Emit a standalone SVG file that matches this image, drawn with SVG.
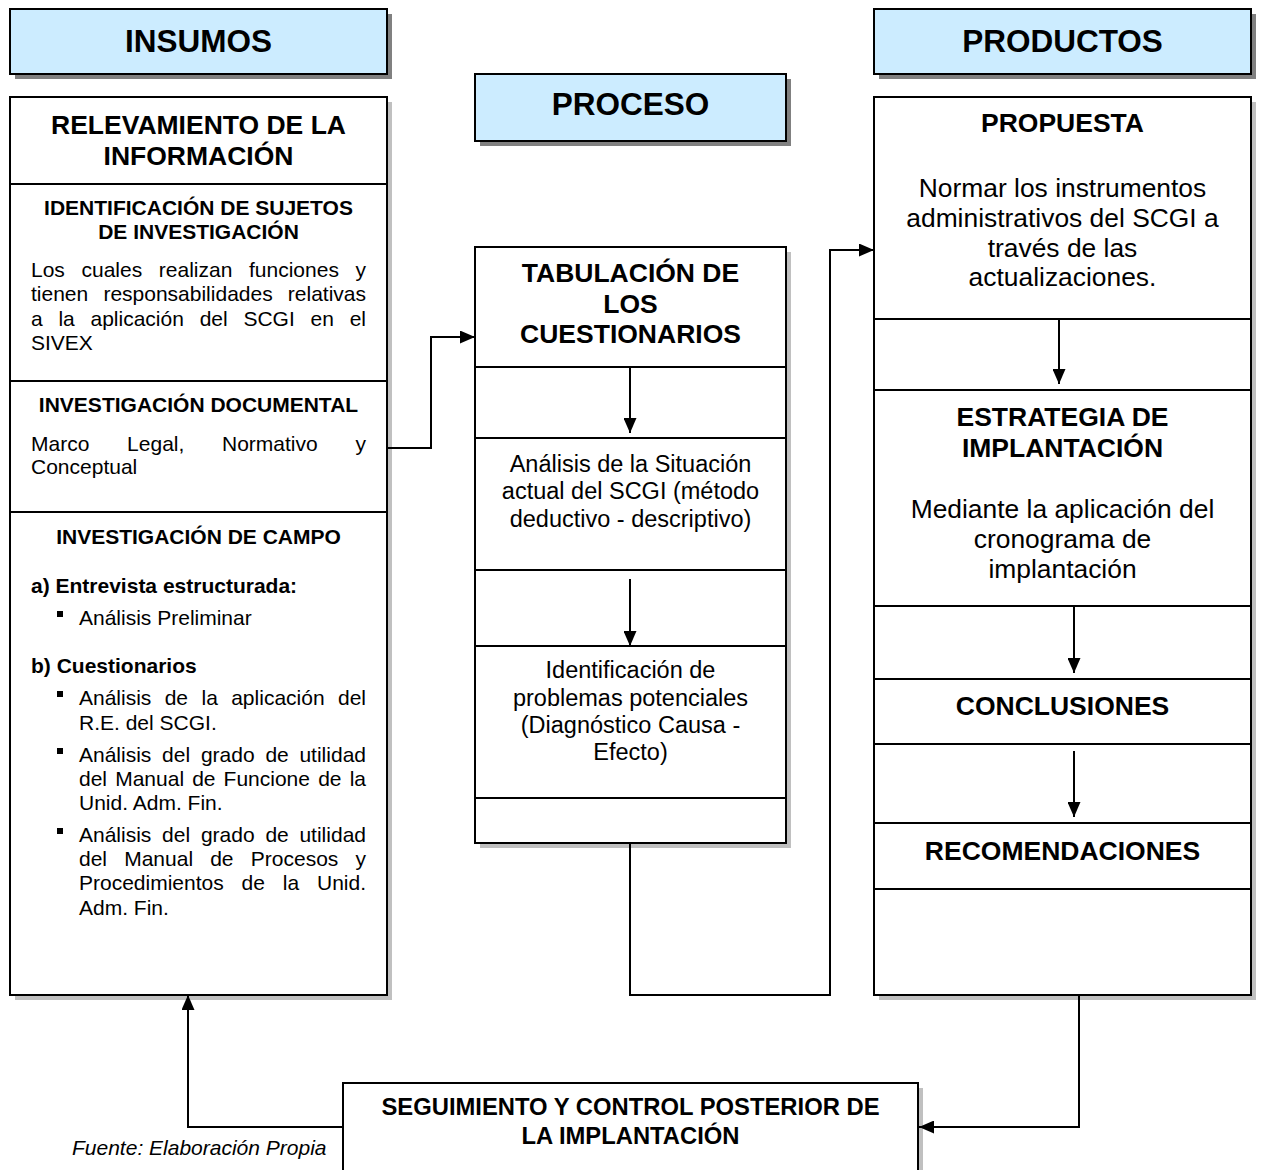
<svg xmlns="http://www.w3.org/2000/svg" width="1261" height="1170" viewBox="0 0 1261 1170">
<style>
text{font-family:"Liberation Sans",Arial,sans-serif;fill:#000}
.hd{font-size:31.5px;font-weight:bold;text-anchor:middle}
.t1{font-size:26.5px;font-weight:bold;text-anchor:middle}
.t2{font-size:21px;font-weight:bold;text-anchor:middle}
.t3{font-size:23.8px;font-weight:bold;text-anchor:middle}
.b2{font-size:21px;font-weight:bold}
.bd{font-size:21px}
.e{text-anchor:end}
.mb{font-size:23.5px;text-anchor:middle}
.rb{font-size:26.4px;text-anchor:middle}
.src{font-size:21px;font-style:italic}
.hbox{fill:#CCECFF;stroke:#000;stroke-width:2}
.box{fill:#fff;stroke:#000;stroke-width:2}
.hsh{fill:#808080}
.sh{fill:#c0c0c0}
.dv{stroke:#000;stroke-width:2;fill:none}
.cn{stroke:#000;stroke-width:2;fill:none}
.ca{stroke:#000;stroke-width:2;fill:none;marker-end:url(#ah)}
</style>
<defs>
<marker id="ah" markerUnits="userSpaceOnUse" viewBox="0 0 15 13" markerWidth="15" markerHeight="13" refX="15" refY="6.5" orient="auto">
<path d="M0,0 L15,6.5 L0,13 Z" fill="#000"/>
</marker>
</defs>
<rect width="1261" height="1170" fill="#fff"/>

<g id="insumos-header">
<rect class="hsh" x="15" y="14" width="377" height="65"/>
<rect class="hbox" x="10" y="9" width="377" height="65"/>
<text class="hd" x="198.5" y="52">INSUMOS</text>
</g>

<g id="proceso-header">
<rect class="hsh" x="480" y="79" width="311" height="67"/>
<rect class="hbox" x="475" y="74" width="311" height="67"/>
<text class="hd" x="630.5" y="115">PROCESO</text>
</g>

<g id="productos-header">
<rect class="hsh" x="879" y="14" width="377" height="65"/>
<rect class="hbox" x="874" y="9" width="377" height="65"/>
<text class="hd" x="1062.5" y="52">PRODUCTOS</text>
</g>

<g id="insumos">
<rect class="sh" x="15" y="102" width="377" height="898"/>
<rect class="box" x="10" y="97" width="377" height="898"/>
<line class="dv" x1="10" y1="184" x2="387" y2="184"/>
<line class="dv" x1="10" y1="381" x2="387" y2="381"/>
<line class="dv" x1="10" y1="512" x2="387" y2="512"/>
<text class="t1" x="198.5" y="134">RELEVAMIENTO DE LA</text>
<text class="t1" x="198.5" y="165">INFORMACIÓN</text>

<text class="t2" x="198.5" y="215">IDENTIFICACIÓN DE SUJETOS</text>
<text class="t2" x="198.5" y="239">DE INVESTIGACIÓN</text>
<text class="bd" y="277"><tspan x="31">Los</tspan><tspan x="81.5">cuales</tspan><tspan x="158.8">realizan</tspan><tspan x="249">funciones</tspan></text>
<text class="bd e" x="366" y="277">y</text>
<text class="bd" y="301"><tspan x="31">tienen</tspan><tspan x="103.4">responsabilidades</tspan></text>
<text class="bd e" x="366" y="301">relativas</text>
<text class="bd" y="326"><tspan x="31">a</tspan><tspan x="58.4">la</tspan><tspan x="90.5">aplicación</tspan><tspan x="199.7">del</tspan><tspan x="243.4">SCGI</tspan><tspan x="310.5">en</tspan></text>
<text class="bd e" x="366" y="326">el</text>
<text class="bd" x="31" y="350">SIVEX</text>

<text class="t2" x="198.5" y="412">INVESTIGACIÓN DOCUMENTAL</text>
<text class="bd" y="451"><tspan x="31">Marco</tspan><tspan x="127.1">Legal,</tspan><tspan x="222">Normativo</tspan></text>
<text class="bd e" x="366" y="451">y</text>
<text class="bd" x="31" y="474">Conceptual</text>

<text class="t2" x="198.5" y="544">INVESTIGACIÓN DE CAMPO</text>
<text class="b2" x="31" y="593">a) Entrevista estructurada:</text>
<rect x="57" y="611" width="6" height="6"/>
<text class="bd" x="79" y="625">Análisis Preliminar</text>
<text class="b2" x="31" y="673">b) Cuestionarios</text>
<rect x="57" y="691" width="6" height="6"/>
<text class="bd" y="705"><tspan x="79">Análisis</tspan><tspan x="164.7">de</tspan><tspan x="201.5">la</tspan><tspan x="231.2">aplicación</tspan></text>
<text class="bd e" x="366" y="705">del</text>
<text class="bd" x="79" y="730">R.E. del SCGI.</text>
<rect x="57" y="748" width="6" height="6"/>
<text class="bd" y="762"><tspan x="79">Análisis</tspan><tspan x="162.1">del</tspan><tspan x="200.9">grado</tspan><tspan x="265.4">de</tspan></text>
<text class="bd e" x="366" y="762">utilidad</text>
<text class="bd" y="786"><tspan x="79">del</tspan><tspan x="115.2">Manual</tspan><tspan x="192.2">de</tspan><tspan x="223.6">Funcione</tspan><tspan x="318.2">de</tspan></text>
<text class="bd e" x="366" y="786">la</text>
<text class="bd" x="79" y="810">Unid. Adm. Fin.</text>
<rect x="57" y="828" width="6" height="6"/>
<text class="bd" y="842"><tspan x="79">Análisis</tspan><tspan x="162.1">del</tspan><tspan x="200.9">grado</tspan><tspan x="265.4">de</tspan></text>
<text class="bd e" x="366" y="842">utilidad</text>
<text class="bd" y="866"><tspan x="79">del</tspan><tspan x="124.2">Manual</tspan><tspan x="210.2">de</tspan><tspan x="250.8">Procesos</tspan></text>
<text class="bd e" x="366" y="866">y</text>
<text class="bd" y="890"><tspan x="79">Procedimientos</tspan><tspan x="241.6">de</tspan><tspan x="282.8">la</tspan></text>
<text class="bd e" x="366" y="890">Unid.</text>
<text class="bd" x="79" y="915">Adm. Fin.</text>
</g>

<g id="proceso">
<rect class="sh" x="480" y="252" width="311" height="596"/>
<rect class="box" x="475" y="247" width="311" height="596"/>
<line class="dv" x1="475" y1="367" x2="786" y2="367"/>
<line class="dv" x1="475" y1="438" x2="786" y2="438"/>
<line class="dv" x1="475" y1="570" x2="786" y2="570"/>
<line class="dv" x1="475" y1="646" x2="786" y2="646"/>
<line class="dv" x1="475" y1="798" x2="786" y2="798"/>
<text class="t1" x="630.5" y="282">TABULACIÓN DE</text>
<text class="t1" x="630.5" y="313">LOS</text>
<text class="t1" x="630.5" y="343">CUESTIONARIOS</text>
<text class="mb" x="630.5" y="472">Análisis de la Situación</text>
<text class="mb" x="630.5" y="499">actual del SCGI (método</text>
<text class="mb" x="630.5" y="527">deductivo - descriptivo)</text>
<text class="mb" x="630.5" y="678">Identificación de</text>
<text class="mb" x="630.5" y="706">problemas potenciales</text>
<text class="mb" x="630.5" y="733">(Diagnóstico Causa -</text>
<text class="mb" x="630.5" y="760">Efecto)</text>
</g>

<g id="productos">
<rect class="sh" x="879" y="102" width="377" height="898"/>
<rect class="box" x="874" y="97" width="377" height="898"/>
<line class="dv" x1="874" y1="319" x2="1251" y2="319"/>
<line class="dv" x1="874" y1="390" x2="1251" y2="390"/>
<line class="dv" x1="874" y1="606" x2="1251" y2="606"/>
<line class="dv" x1="874" y1="679" x2="1251" y2="679"/>
<line class="dv" x1="874" y1="744" x2="1251" y2="744"/>
<line class="dv" x1="874" y1="823" x2="1251" y2="823"/>
<line class="dv" x1="874" y1="889" x2="1251" y2="889"/>
<text class="t1" x="1062.5" y="132">PROPUESTA</text>
<text class="rb" x="1062.5" y="197">Normar los instrumentos</text>
<text class="rb" x="1062.5" y="227">administrativos del SCGI a</text>
<text class="rb" x="1062.5" y="257">través de las</text>
<text class="rb" x="1062.5" y="286">actualizaciones.</text>
<text class="t1" x="1062.5" y="426">ESTRATEGIA DE</text>
<text class="t1" x="1062.5" y="457">IMPLANTACIÓN</text>
<text class="rb" x="1062.5" y="518">Mediante la aplicación del</text>
<text class="rb" x="1062.5" y="548">cronograma de</text>
<text class="rb" x="1062.5" y="578">implantación</text>
<text class="t1" x="1062.5" y="715">CONCLUSIONES</text>
<text class="t1" x="1062.5" y="860">RECOMENDACIONES</text>
</g>

<g id="seguimiento">
<rect class="sh" x="348" y="1088" width="575" height="100"/>
<rect class="box" x="343" y="1083" width="575" height="100"/>
<text class="t3" x="630.5" y="1115">SEGUIMIENTO Y CONTROL POSTERIOR DE</text>
<text class="t3" x="630.5" y="1144">LA IMPLANTACIÓN</text>
</g>

<g id="connectors">
<path class="ca" d="M387,448 H431 V337 H475"/>
<path class="ca" d="M630,367 V433"/>
<path class="ca" d="M630,579 V646"/>
<path class="ca" d="M630,843 V995 H830 V250 H874"/>
<path class="ca" d="M1059,319 V384"/>
<path class="ca" d="M1074,606 V673"/>
<path class="ca" d="M1074,751 V817"/>
<path class="ca" d="M1079,995 V1127 H919"/>
<path class="ca" d="M343,1127 H188 V995"/>
</g>

<text class="src" x="72" y="1155">Fuente: Elaboración Propia</text>
</svg>
